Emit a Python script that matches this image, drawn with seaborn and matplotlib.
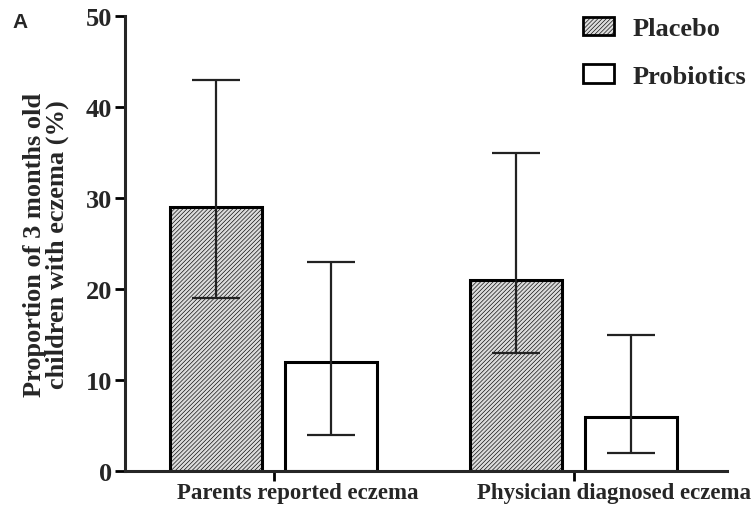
import matplotlib
matplotlib.use("Agg")
import matplotlib.pyplot as plt
import matplotlib.transforms as mtransforms
from matplotlib.patches import Patch
import numpy as np
import pandas as pd
import seaborn as sns

# values
outcomes = ["Parents reported eczema", "Physician diagnosed eczema"]
groups = ["Placebo", "Probiotics"]
placebo_mean = [29, 21]
placebo_low = [19, 13]
placebo_high = [43, 35]
probiotic_mean = [12, 6]
probiotic_low = [4, 2]
probiotic_high = [23, 15]

yticks = [0, 10, 20, 30, 40, 50]

df = pd.DataFrame({
    "outcome": outcomes * 2,
    "group": ["Placebo"] * 2 + ["Probiotics"] * 2,
    "pct": placebo_mean + probiotic_mean,
})
lows = {"Placebo": placebo_low, "Probiotics": probiotic_low}
highs = {"Placebo": placebo_high, "Probiotics": probiotic_high}
means = {"Placebo": placebo_mean, "Probiotics": probiotic_mean}

HATCH = "////////"
GREY = "#dcdcdc"

sns.set_style("ticks")
plt.rcParams["font.family"] = ["Liberation Serif", "DejaVu Serif"]
plt.rcParams["font.weight"] = "bold"
plt.rcParams["hatch.linewidth"] = 0.45

fig = plt.figure(figsize=(7.56, 5.06), dpi=100)
ax = fig.add_axes([0.1653, 0.067, 0.796, 0.899])

sns.barplot(data=df, x="outcome", y="pct", hue="group", order=outcomes,
            hue_order=groups, errorbar=None, width=0.767, gap=0.2,
            palette=[GREY, "white"], edgecolor="black", linewidth=2.2,
            legend=False, ax=ax)

for cont, g in zip(ax.containers, groups):
    for bar in cont:
        if g == "Placebo":
            bar.set_hatch(HATCH)
    xs = [b.get_x() + b.get_width() / 2 for b in cont]
    m = np.array(means[g])
    err = [m - np.array(lows[g]), np.array(highs[g]) - m]
    ax.errorbar(xs, m, yerr=err, fmt="none", ecolor="#222222",
                elinewidth=1.6, capsize=17, capthick=1.6, zorder=5)

ax.set_xlim(-0.497, 1.51)
ax.set_ylim(0, 50)
ax.set_yticks(yticks)
ax.set_yticklabels([str(t) for t in yticks], fontsize=19, fontweight="bold")
ax.set_xlabel("")
ax.set_ylabel("Proportion of 3 months old\nchildren with eczema (%)",
              fontsize=19, fontweight="bold", linespacing=0.95)
ax.yaxis.set_label_coords(-0.093, 0.5)

# category labels sit left-aligned, shifted left of their ticks
ax.set_xticks(range(len(outcomes)))
ax.set_xticklabels([])
shift = mtransforms.ScaledTranslation(-0.97, -0.11, fig.dpi_scale_trans)
blend = mtransforms.blended_transform_factory(ax.transData, ax.transAxes)
for i, name in enumerate(outcomes):
    ax.text(i, 0, name, transform=blend + shift, ha="left", va="top",
            fontsize=16.5, fontweight="bold")

ax.tick_params(axis="both", width=2, length=7, color="black", pad=2)
for side in ["left", "bottom"]:
    ax.spines[side].set_linewidth(2.2)
sns.despine(ax=ax)

handles = [Patch(facecolor=GREY, edgecolor="black", hatch=HATCH, linewidth=2),
           Patch(facecolor="white", edgecolor="black", linewidth=2)]
fig.legend(handles, groups, loc="upper left", bbox_to_anchor=(0.740, 1.012),
           frameon=False, prop={"size": 19, "weight": "bold"},
           handlelength=1.15, handleheight=0.7, labelspacing=0.92,
           handletextpad=0.72)

fig.text(0.016, 0.945, "A", fontsize=15, fontweight="bold",
         family="Liberation Sans")

fig.savefig("out.png", dpi=100)
